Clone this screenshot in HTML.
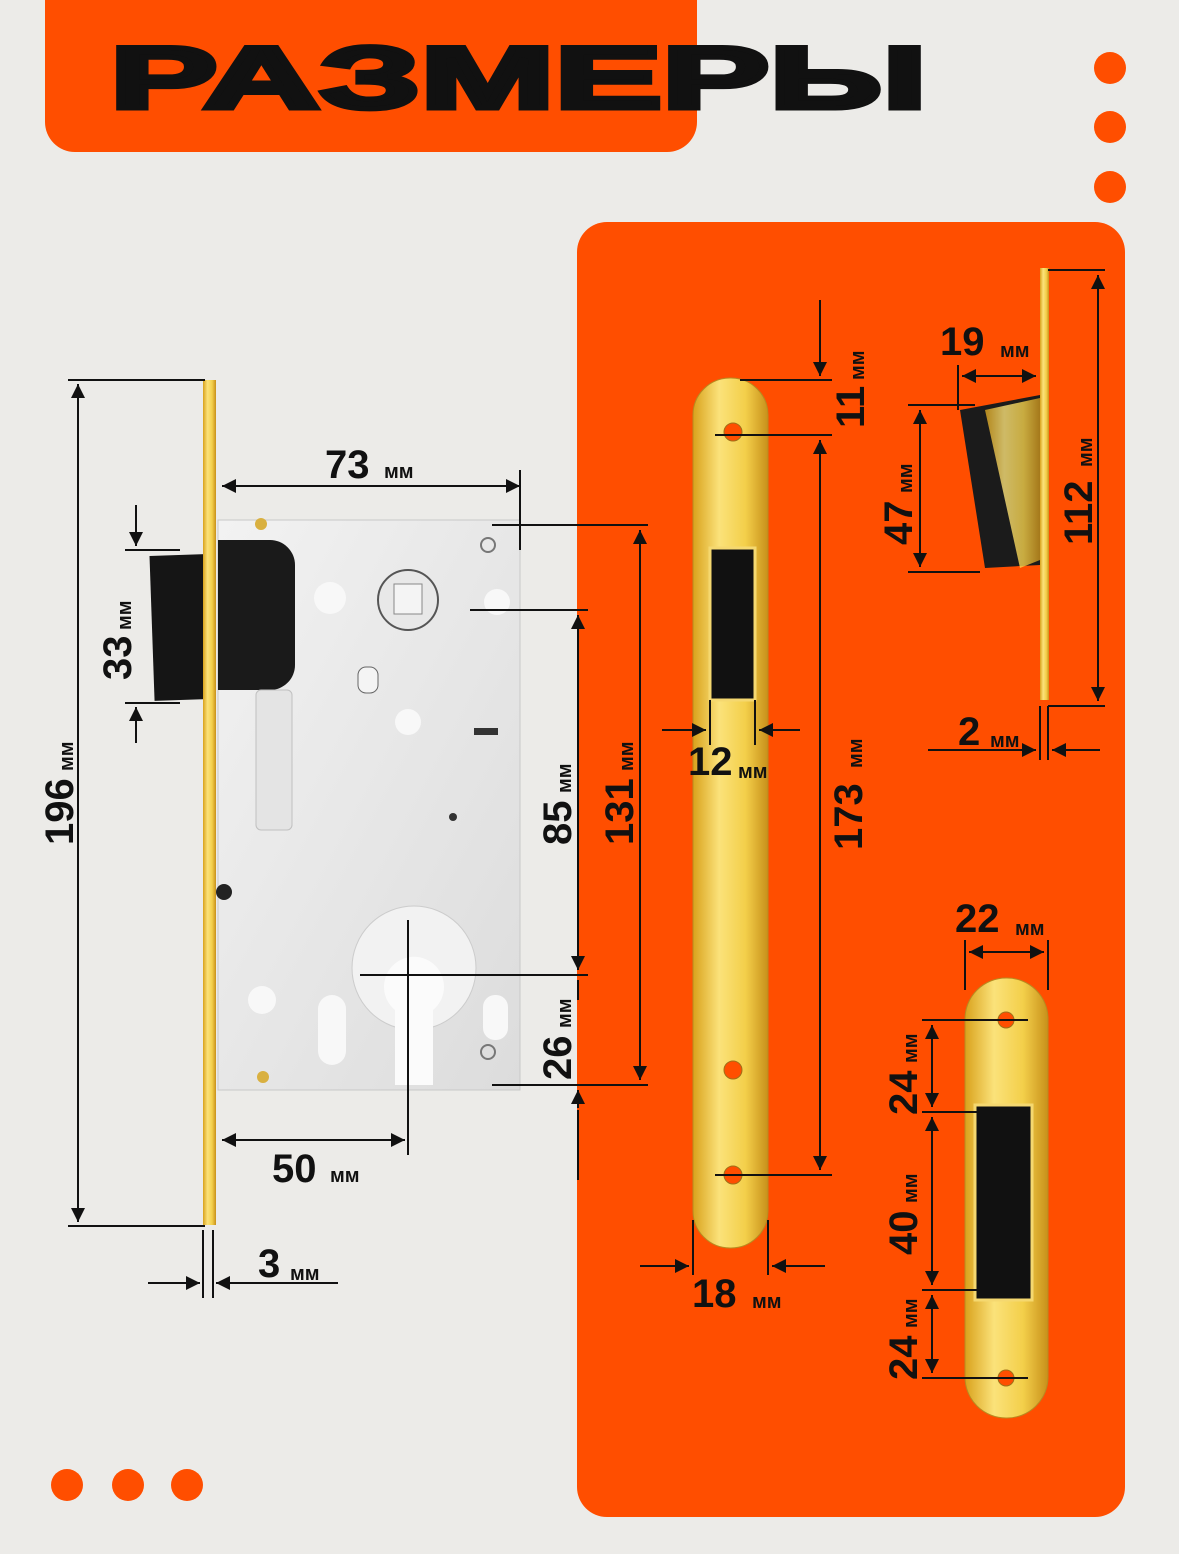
<!DOCTYPE html>
<html><head><meta charset="utf-8"><style>
html,body{margin:0;padding:0;background:#ecebe8;}
svg{display:block;}
text{font-family:"Liberation Sans",sans-serif;font-weight:bold;fill:#111;}
</style></head><body>
<svg width="1179" height="1554" viewBox="0 0 1179 1554" xmlns="http://www.w3.org/2000/svg">
<defs>
<linearGradient id="gold" x1="0" x2="1" y1="0" y2="0">
<stop offset="0" stop-color="#d9a21c"/><stop offset="0.35" stop-color="#fbe27a"/><stop offset="0.7" stop-color="#f3cf4a"/><stop offset="1" stop-color="#c8901a"/>
</linearGradient>
<linearGradient id="silver" x1="0" x2="1" y1="0" y2="1">
<stop offset="0" stop-color="#f2f2f2"/><stop offset="1" stop-color="#dcdcdc"/>
</linearGradient>
<marker id="a" viewBox="0 0 10 10" refX="10" refY="5" markerWidth="7" markerHeight="7" orient="auto-start-reverse"><path d="M0,0L10,5L0,10z" fill="#111"/></marker>
</defs>
<rect width="1179" height="1554" fill="#ecebe8"/>
<!-- header -->
<path d="M45,0H697V122a30,30 0 0 1 -30,30H75a30,30 0 0 1 -30,-30z" fill="#ff4e00"/>
<text x="110" y="108" font-size="88" transform="translate(110 0) scale(1.83 1) translate(-110 0)" stroke="#111" stroke-width="5" style="font-weight:900">РАЗМЕРЫ</text>
<circle cx="1110" cy="68" r="16" fill="#ff4e00"/><circle cx="1110" cy="127" r="16" fill="#ff4e00"/><circle cx="1110" cy="187" r="16" fill="#ff4e00"/>
<circle cx="67" cy="1485" r="16" fill="#ff4e00"/><circle cx="128" cy="1485" r="16" fill="#ff4e00"/><circle cx="187" cy="1485" r="16" fill="#ff4e00"/>
<!-- orange panel -->
<rect x="577" y="222" width="548" height="1295" rx="30" fill="#ff4e00"/>

<!-- lock body -->
<rect x="152" y="555" width="55" height="145" fill="#151515" transform="rotate(-2 180 627)"/>
<rect x="218" y="520" width="302" height="570" fill="url(#silver)" stroke="#c8c8c8"/>
<path d="M218,540H270a25,25 0 0 1 25,25V665a25,25 0 0 1 -25,25H218z" fill="#1a1a1a"/>
<rect x="256" y="690" width="36" height="140" rx="5" fill="#e4e4e4" stroke="#c0c0c0"/>
<circle cx="408" cy="600" r="30" fill="#e8e8e8" stroke="#555" stroke-width="2"/>
<rect x="394" y="584" width="28" height="30" fill="#f4f4f4" stroke="#888"/>
<circle cx="330" cy="598" r="16" fill="#f8f8f8"/><circle cx="497" cy="602" r="13" fill="#f8f8f8"/>
<circle cx="408" cy="722" r="13" fill="#f8f8f8"/>
<rect x="358" y="667" width="20" height="26" rx="8" fill="#f4f4f4" stroke="#666"/>
<rect x="474" y="728" width="24" height="7" fill="#333"/>
<circle cx="453" cy="817" r="4" fill="#333"/>
<circle cx="414" cy="968" r="62" fill="#f2f2f2" stroke="#ccc"/>
<path d="M395,1010a30,30 0 1 1 38,0V1085H395z" fill="#fbfbfb"/>
<rect x="318" y="995" width="28" height="70" rx="14" fill="#f8f8f8"/><rect x="483" y="995" width="25" height="45" rx="12" fill="#f8f8f8"/>
<circle cx="262" cy="1000" r="14" fill="#f8f8f8"/>
<circle cx="261" cy="524" r="6" fill="#d9b040"/><circle cx="263" cy="1077" r="6" fill="#d9b040"/>
<circle cx="488" cy="545" r="7" fill="none" stroke="#777" stroke-width="2"/><circle cx="488" cy="1052" r="7" fill="none" stroke="#777" stroke-width="2"/>
<rect x="203" y="380" width="13" height="845" fill="url(#gold)"/>
<circle cx="224" cy="892" r="8" fill="#222"/>

<!-- left dimensions -->
<g stroke="#111" stroke-width="2" fill="none">
<line x1="68" y1="380" x2="205" y2="380"/><line x1="68" y1="1226" x2="205" y2="1226"/>
<line x1="78" y1="384" x2="78" y2="1222" marker-start="url(#a)" marker-end="url(#a)"/>
<line x1="125" y1="550" x2="180" y2="550"/><line x1="125" y1="703" x2="180" y2="703"/>
<line x1="136" y1="505" x2="136" y2="546" marker-end="url(#a)"/><line x1="136" y1="743" x2="136" y2="707" marker-end="url(#a)"/>
<line x1="222" y1="486" x2="520" y2="486" marker-start="url(#a)" marker-end="url(#a)"/>
<line x1="520" y1="470" x2="520" y2="550"/>
<line x1="222" y1="1140" x2="405" y2="1140" marker-start="url(#a)" marker-end="url(#a)"/>
<line x1="408" y1="920" x2="408" y2="1155"/>
<line x1="203" y1="1230" x2="203" y2="1298"/><line x1="213" y1="1230" x2="213" y2="1298"/>
<line x1="148" y1="1283" x2="200" y2="1283" marker-end="url(#a)"/><line x1="338" y1="1283" x2="216" y2="1283" marker-end="url(#a)"/>
<line x1="492" y1="525" x2="648" y2="525"/><line x1="492" y1="1085" x2="648" y2="1085"/>
<line x1="640" y1="530" x2="640" y2="1080" marker-start="url(#a)" marker-end="url(#a)"/>
<line x1="470" y1="610" x2="588" y2="610"/><line x1="360" y1="975" x2="588" y2="975"/>
<line x1="578" y1="615" x2="578" y2="970" marker-start="url(#a)" marker-end="url(#a)"/>
<line x1="578" y1="980" x2="578" y2="1000" /><line x1="578" y1="1110" x2="578" y2="1180"/>
<line x1="578" y1="1090" x2="578" y2="1108" marker-start="url(#a)"/>
</g>
<text x="325" y="478" font-size="40">73</text><text x="384" y="478" font-size="20">мм</text>
<text x="272" y="1182" font-size="40">50</text><text x="330" y="1182" font-size="20">мм</text>
<text x="258" y="1277" font-size="40">3</text><text x="290" y="1280" font-size="20">мм</text>
<g transform="translate(131 680) rotate(-90)"><text x="0" y="0" font-size="40">33</text><text x="50" y="0" font-size="20">мм</text></g>
<g transform="translate(73 845) rotate(-90)"><text x="0" y="0" font-size="40">196</text><text x="74" y="0" font-size="20">мм</text></g>
<g transform="translate(571 845) rotate(-90)"><text x="0" y="0" font-size="40">85</text><text x="52" y="0" font-size="20">мм</text></g>
<g transform="translate(633 845) rotate(-90)"><text x="0" y="0" font-size="40">131</text><text x="74" y="0" font-size="20">мм</text></g>
<g transform="translate(571 1080) rotate(-90)"><text x="0" y="0" font-size="40">26</text><text x="52" y="0" font-size="20">мм</text></g>

<!-- strike plate center -->
<rect x="693" y="378" width="75" height="870" rx="37" fill="url(#gold)" stroke="#b88a20"/>
<rect x="710" y="548" width="45" height="152" fill="#111" stroke="#f5d870" stroke-width="3"/>
<circle cx="733" cy="432" r="9" fill="#ff4e00" stroke="#a07018"/><circle cx="733" cy="1070" r="9" fill="#ff4e00" stroke="#a07018"/><circle cx="733" cy="1175" r="9" fill="#ff4e00" stroke="#a07018"/>
<g stroke="#111" stroke-width="2" fill="none">
<line x1="740" y1="380" x2="832" y2="380"/><line x1="715" y1="435" x2="832" y2="435"/><line x1="715" y1="1175" x2="832" y2="1175"/>
<line x1="820" y1="300" x2="820" y2="376" marker-end="url(#a)"/>
<line x1="820" y1="440" x2="820" y2="1170" marker-start="url(#a)" marker-end="url(#a)"/>
<line x1="710" y1="700" x2="710" y2="745"/><line x1="755" y1="700" x2="755" y2="745"/>
<line x1="662" y1="730" x2="706" y2="730" marker-end="url(#a)"/><line x1="800" y1="730" x2="759" y2="730" marker-end="url(#a)"/>
<line x1="693" y1="1220" x2="693" y2="1275"/><line x1="768" y1="1220" x2="768" y2="1275"/>
<line x1="640" y1="1266" x2="689" y2="1266" marker-end="url(#a)"/><line x1="825" y1="1266" x2="772" y2="1266" marker-end="url(#a)"/>
</g>
<text x="688" y="775" font-size="40">12</text><text x="738" y="778" font-size="20">мм</text>
<text x="692" y="1307" font-size="40">18</text><text x="752" y="1308" font-size="20">мм</text>
<g transform="translate(864 428) rotate(-90)"><text x="0" y="0" font-size="40">11</text><text x="48" y="0" font-size="20">мм</text></g>
<g transform="translate(862 850) rotate(-90)"><text x="0" y="0" font-size="40">173</text><text x="82" y="0" font-size="20">мм</text></g>

<!-- top right magnet piece -->
<rect x="1040" y="268" width="9" height="432" fill="url(#gold)"/>
<path d="M960,410L1040,395V565L985,568z" fill="#1b1b1b"/>
<path d="M985,410L1040,398V560L1020,568z" fill="url(#gold)" opacity="0.8"/>
<g stroke="#111" stroke-width="2" fill="none">
<line x1="1048" y1="270" x2="1105" y2="270"/><line x1="1048" y1="706" x2="1105" y2="706"/>
<line x1="1098" y1="275" x2="1098" y2="701" marker-start="url(#a)" marker-end="url(#a)"/>
<line x1="958" y1="365" x2="958" y2="410"/>
<line x1="962" y1="376" x2="1036" y2="376" marker-start="url(#a)" marker-end="url(#a)"/>
<line x1="908" y1="405" x2="975" y2="405"/><line x1="908" y1="572" x2="980" y2="572"/>
<line x1="920" y1="410" x2="920" y2="567" marker-start="url(#a)" marker-end="url(#a)"/>
<line x1="1040" y1="706" x2="1040" y2="760"/><line x1="1048" y1="706" x2="1048" y2="760"/>
<line x1="928" y1="750" x2="1036" y2="750" marker-end="url(#a)"/><line x1="1100" y1="750" x2="1052" y2="750" marker-end="url(#a)"/>
</g>
<text x="940" y="355" font-size="40">19</text><text x="1000" y="357" font-size="20">мм</text>
<text x="958" y="745" font-size="40">2</text><text x="990" y="747" font-size="20">мм</text>
<g transform="translate(912 545) rotate(-90)"><text x="0" y="0" font-size="40">47</text><text x="52" y="0" font-size="20">мм</text></g>
<g transform="translate(1092 545) rotate(-90)"><text x="0" y="0" font-size="40">112</text><text x="78" y="0" font-size="20">мм</text></g>

<!-- bottom right strike -->
<rect x="965" y="978" width="83" height="440" rx="41" fill="url(#gold)" stroke="#b88a20"/>
<rect x="975" y="1105" width="57" height="195" fill="#111" stroke="#f5d870" stroke-width="3"/>
<circle cx="1006" cy="1020" r="8" fill="#ff4e00" stroke="#a07018"/><circle cx="1006" cy="1378" r="8" fill="#ff4e00" stroke="#a07018"/>
<g stroke="#111" stroke-width="2" fill="none">
<line x1="965" y1="940" x2="965" y2="990"/><line x1="1048" y1="940" x2="1048" y2="990"/>
<line x1="969" y1="952" x2="1044" y2="952" marker-start="url(#a)" marker-end="url(#a)"/>
<line x1="922" y1="1020" x2="1028" y2="1020"/><line x1="922" y1="1112" x2="980" y2="1112"/>
<line x1="922" y1="1290" x2="980" y2="1290"/><line x1="922" y1="1378" x2="1028" y2="1378"/>
<line x1="932" y1="1025" x2="932" y2="1107" marker-start="url(#a)" marker-end="url(#a)"/>
<line x1="932" y1="1117" x2="932" y2="1285" marker-start="url(#a)" marker-end="url(#a)"/>
<line x1="932" y1="1295" x2="932" y2="1373" marker-start="url(#a)" marker-end="url(#a)"/>
</g>
<text x="955" y="932" font-size="40">22</text><text x="1015" y="935" font-size="20">мм</text>
<g transform="translate(917 1115) rotate(-90)"><text x="0" y="0" font-size="40">24</text><text x="52" y="0" font-size="20">мм</text></g>
<g transform="translate(917 1255) rotate(-90)"><text x="0" y="0" font-size="40">40</text><text x="52" y="0" font-size="20">мм</text></g>
<g transform="translate(917 1380) rotate(-90)"><text x="0" y="0" font-size="40">24</text><text x="52" y="0" font-size="20">мм</text></g>
</svg>
</body></html>
